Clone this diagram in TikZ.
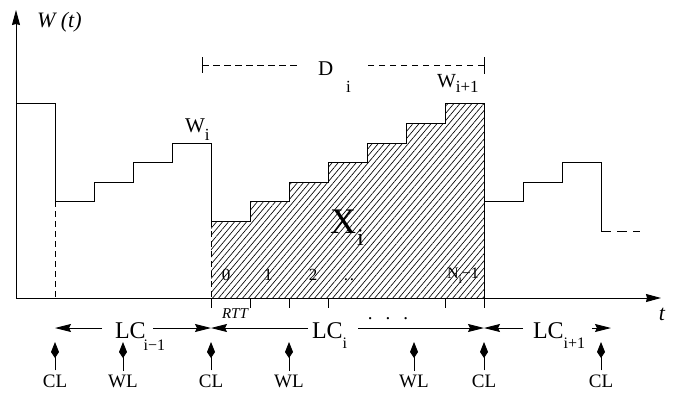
\documentclass[tikz,border=0pt]{standalone}
\usepackage{fontspec}
\setmainfont{Liberation Serif}
\usetikzlibrary{arrows.meta,patterns.meta}

\newcommand\fs[1]{\fontsize{#1}{#1}\selectfont}
\newcommand\lowsub[2]{\raisebox{-#1}{#2}}

\begin{document}
\begin{tikzpicture}[x=1pt,y=-1pt,
  lbl/.style={inner sep=0pt,outer sep=0pt},
  curve/.style={line width=0.9pt,line join=miter},
  axisline/.style={line width=0.9pt,-{Stealth[length=15pt,width=8pt,inset=1pt]}},
  spanarrow/.style={line width=0.9pt,-{Stealth[length=16pt,width=8pt,inset=2pt]}},
  pinarrow/.style={line width=0.9pt,-{Kite[length=16pt,width=8pt,inset=6pt]}},
  guide/.style={line width=0.9pt,dash pattern=on 6pt off 4pt},
  tickline/.style={line width=0.9pt},
  pinlabel/.style={lbl,anchor=base,font=\fs{19}},
]
\useasboundingbox (0,0) rectangle (674,394);

% axes
\coordinate (origin) at (16,298);
\coordinate (ytop) at (16,10);
\coordinate (xend) at (661,298);
\draw[axisline] (origin) -- (ytop);
\draw[axisline] (origin) -- (xend);
\node[lbl,anchor=base west,font=\itshape\fs{22}] (wt) at (37,27) {W (t)};
\node[lbl,anchor=base,font=\itshape\fs{22}] (tlab) at (662,320) {t};

% hatched area X_i under the window
\fill[pattern={Lines[angle=50,distance=4.6pt,line width=0.65pt]}]
  (211,298) -- (211,221) -- (250,221) -- (250,201) -- (289,201) -- (289,182)
  -- (328,182) -- (328,162) -- (367,162) -- (367,143) -- (406,143) -- (406,123)
  -- (445,123) -- (445,103) -- (484,103) -- (484,298) -- cycle;

% congestion window
\draw[curve] (16,103) -- (55,103) -- (55,201) -- (94,201) -- (94,182) -- (133,182)
  -- (133,162) -- (172,162) -- (172,143) -- (211,143) -- (211,221) -- (250,221)
  -- (250,201) -- (289,201) -- (289,182) -- (328,182) -- (328,162) -- (367,162)
  -- (367,143) -- (406,143) -- (406,123) -- (445,123) -- (445,103) -- (484,103)
  -- (484,201) -- (523,201) -- (523,182) -- (562,182) -- (562,162) -- (601,162)
  -- (601,231);
\draw[curve] (484,201) -- (484,298);
\draw[curve,dash pattern=on 10pt off 6pt] (601,231) -- (640,231);
\draw[guide] (55,201) -- (55,298);
\draw[guide] (211,221) -- (211,298);

% round trip ticks
\foreach \x in {211,250,289,328,445,484}
  \draw[tickline] (\x,298) -- (\x,308);
\node[lbl,anchor=base,font=\itshape\fs{15}] (rtt) at (235,318) {RTT};

% labels in the hatched area
\node[lbl,anchor=base,font=\fs{17}] (n0) at (226,280) {0};
\node[lbl,anchor=base,font=\fs{17}] (n1) at (268,280) {1};
\node[lbl,anchor=base,font=\fs{17}] (n2) at (313,280) {2};
\node[lbl,anchor=base,font=\fs{17}] (ndots) at (349,280) {.\hspace{2pt}.};
\node[lbl,anchor=base west,font=\fs{16}] (nlast) at (447,278) {N\lowsub{5pt}{\fs{12}i}−1};
\node[lbl,anchor=base west,font=\fs{36}] (xi) at (330,233) {X\hspace{1pt}\lowsub{12pt}{\fs{24}i}};

% window labels
\node[lbl,anchor=base west,font=\fs{21}] (wi) at (185,132) {W\lowsub{8pt}{\fs{17}i}};
\node[lbl,anchor=base west,font=\fs{20}] (wnext) at (437,87) {W\lowsub{5pt}{\fs{17}i+1}};

% duration D_i
\node[lbl,anchor=base west,font=\fs{21}] (di) at (318,75) {D\hspace{13pt}\lowsub{17pt}{\fs{17}i}};
\coordinate (dl) at (202,65);
\coordinate (dr) at (484,65);
\coordinate (dgl) at (299,65);
\coordinate (dgr) at (367,65);
\draw[line width=0.9pt,dash pattern=on 6.5pt off 4.5pt] (dl) -- (dgl);
\draw[line width=0.9pt,dash pattern=on 6.5pt off 4.5pt] (dr) -- (dgr);
\draw[tickline] ([yshift=8pt]dl) -- ([yshift=-8pt]dl);
\draw[tickline] ([yshift=8pt]dr) -- ([yshift=-9pt]dr);

% loss cycles
\coordinate (m0) at (55,328);
\coordinate (m1) at (211,328);
\coordinate (m2) at (484,328);
\coordinate (m3) at (611,328);
\node[lbl,anchor=base west,font=\fs{24}] (lca) at (115,338) {LC\hspace{-2pt}\lowsub{12pt}{\fs{16}i−1}};
\node[lbl,anchor=base west,font=\fs{24}] (lcb) at (312,338) {LC\lowsub{10pt}{\fs{16}i}};
\node[lbl,anchor=base west,font=\fs{24}] (lcc) at (533,338) {LC\lowsub{10pt}{\fs{16}i+1}};
\coordinate (lcal) at (102,328);
\coordinate (lcar) at (153,328);
\coordinate (lcbl) at (308,328);
\coordinate (lcbr) at (358,328);
\coordinate (lccl) at (523,328);
\coordinate (lccr) at (592,328);
\draw[spanarrow] (lcal) -- (m0);
\draw[spanarrow] (lcar) -- (m1);
\draw[spanarrow] (lcbl) -- (m1);
\draw[spanarrow] (lcbr) -- (m2);
\draw[spanarrow] (lccl) -- (m2);
\draw[spanarrow] (lccr) -- (m3);
\node[lbl,anchor=base,font=\fs{19}] (moredots) at (388,319) {.\hspace{13pt}.\hspace{13pt}.};

% loss events
\coordinate (tipline) at (0,342);
\foreach \x/\t/\n in {55/CL/pa,123/WL/pb,211/CL/pc,289/WL/pd,414/WL/pe,484/CL/pf,601/CL/pg}{
  \node[pinlabel] (\n) at (\x,387) {\t};
  \draw[pinarrow,shorten <=4pt] (\n.north) -- (\n.north |- tipline);
}
\end{tikzpicture}
\end{document}
